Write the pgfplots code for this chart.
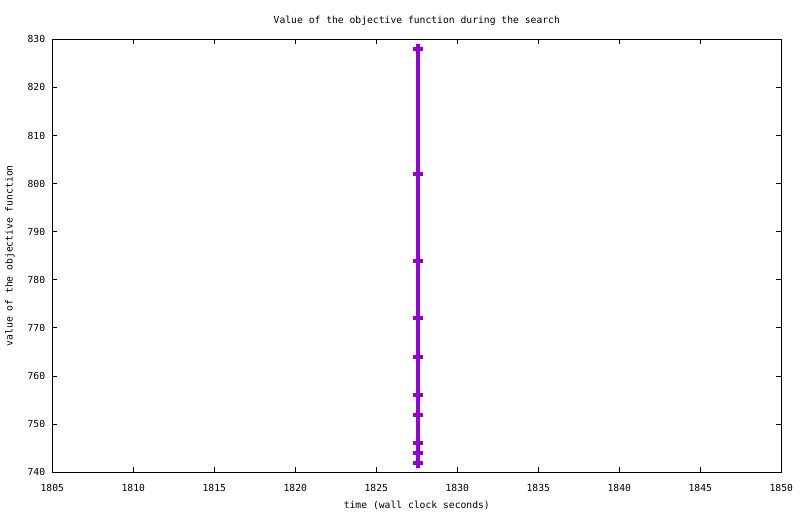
\documentclass[border=0pt]{standalone}
\usepackage{fontspec}
\setmainfont{DejaVu Sans Mono}
\usepackage{pgfplots}
\pgfplotsset{compat=1.18}
\definecolor{gpviolet}{HTML}{9400D3}
\begin{document}
\fontsize{9.7}{11}\selectfont
\begin{tikzpicture}[x=1pt,y=1pt]
\path[use as bounding box] (0,0) rectangle (800,514);
\begin{axis}[
  at={(52.3pt,41.7pt)}, anchor=south west,
  scale only axis, width=729pt, height=433pt,
  xmin=1805, xmax=1850, ymin=740, ymax=830,
  xtick={1805,1810,...,1850}, ytick={740,750,...,830},
  /pgf/number format/assume math mode=true,
  /pgf/number format/1000 sep={},
  axis line style={line width=1pt},
  every tick/.style={line width=1pt, black},
  major tick length=5pt, tick align=inside,
  tick label style={font=\fontsize{9.7}{11}\selectfont},
  label style={font=\fontsize{9.7}{11}\selectfont},
  xticklabel style={anchor=center, inner sep=0pt, yshift=-15.7pt},
  yticklabel style={anchor=east, inner sep=0pt, xshift=-7pt},
  title={Value of the objective function during the search},
  title style={at={(axis description cs:0.5,1.0469)}, anchor=center, yshift=-7.5pt, font=\fontsize{9.7}{11}\selectfont},
  xlabel={time (wall clock seconds)},
  xlabel style={at={(axis description cs:0.5,-0.0755)}, anchor=center},
  ylabel={value of the objective function},
  ylabel style={at={(axis description cs:-0.058,0.5)}, anchor=center, rotate=0},
  clip=false,
]
\addplot[color=gpviolet, line width=4pt, mark=+, mark size=5pt,
  mark options={line width=4pt, solid}] coordinates {
  (1827.6,828) (1827.6,802) (1827.6,784) (1827.6,772) (1827.6,764)
  (1827.6,756) (1827.6,752) (1827.6,746) (1827.6,744) (1827.6,742)
};
\end{axis}
\end{tikzpicture}
\end{document}
